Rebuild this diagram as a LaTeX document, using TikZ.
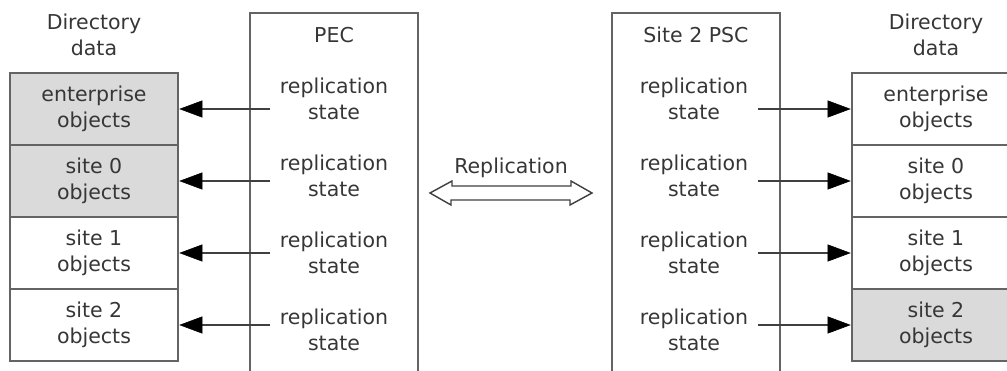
\documentclass[tikz,border=0pt]{standalone}
\usepackage{fontspec}
\setmainfont{DejaVu Sans}
\usetikzlibrary{arrows.meta,calc}
\begin{document}
\begin{tikzpicture}[x=1pt,y=-1pt,
  frame/.style={draw=linegray,line width=2.6pt},
  objbox/.style={frame,minimum width=168pt,minimum height=72pt,inner sep=0pt,
    align=center,text=textgray,font=\fontsize{20.5}{26}\selectfont},
  shaded/.style={fill=boxgray},
  label/.style={align=center,text=textgray,font=\fontsize{20.5}{26}\selectfont,inner sep=10pt},
  arr/.style={draw=arrowgray,line width=2.4pt,
    -{Triangle[length=23pt,width=17pt,color=black,line width=0.5pt]}},
]
\definecolor{linegray}{HTML}{646464}
\definecolor{arrowgray}{HTML}{404040}
\definecolor{textgray}{HTML}{363636}
\definecolor{boxgray}{HTML}{DADADA}
\useasboundingbox (0,0) rectangle (1007,371);
\clip (0,0) rectangle (1007,371);

% left directory data column
\node[label] at (94,35) {Directory\\data};
\node[objbox,shaded] (lent) at (94,109) {enterprise\\objects};
\node[objbox,shaded] (ls0)  at (94,181) {site 0\\objects};
\node[objbox] (ls1) at (94,253) {site 1\\objects};
\node[objbox] (ls2) at (94,325) {site 2\\objects};

% PEC (open at the bottom)
\coordinate (pecBL) at (250,380);
\coordinate (pecBR) at (418,380);
\draw[frame] (pecBL) |- (334,13) -| (pecBR);
\node[label] (pec) at (334,35) {PEC};
\node[label] (pr1) at (334,99)  {replication\\state};
\node[label] (pr2) at (334,176) {replication\\state};
\node[label] (pr3) at (334,253) {replication\\state};
\node[label] (pr4) at (334,330) {replication\\state};

% Site 2 PSC (open at the bottom)
\coordinate (pscBL) at (612,380);
\coordinate (pscBR) at (780,380);
\draw[frame] (pscBL) |- (696,13) -| (pscBR);
\node[label] (psc) at (696,35) {Site 2 PSC};
\node[label] (sr1) at (694,99)  {replication\\state};
\node[label] (sr2) at (694,176) {replication\\state};
\node[label] (sr3) at (694,253) {replication\\state};
\node[label] (sr4) at (694,330) {replication\\state};

% right directory data column
\node[label] at (936,35) {Directory\\data};
\node[objbox] (rent) at (936,109) {enterprise\\objects};
\node[objbox] (rs0)  at (936,181) {site 0\\objects};
\node[objbox] (rs1) at (936,253) {site 1\\objects};
\node[objbox,shaded] (rs2) at (936,325) {site 2\\objects};

% replication-state arrows
\draw[arr] (pr1.west |- lent.east) -- (lent.east);
\draw[arr] (pr2.west |- ls0.east) -- (ls0.east);
\draw[arr] (pr3.west |- ls1.east) -- (ls1.east);
\draw[arr] (pr4.west |- ls2.east) -- (ls2.east);
\draw[arr] (sr1.east |- rent.west) -- (rent.west);
\draw[arr] (sr2.east |- rs0.west) -- (rs0.west);
\draw[arr] (sr3.east |- rs1.west) -- (rs1.west);
\draw[arr] (sr4.east |- rs2.west) -- (rs2.west);

% replication double arrow between the two controllers
\node[label,inner sep=0pt] (repl) at (511,168) {Replication};
\coordinate (da) at (511,193);
\draw[draw=arrowgray,line width=1.4pt,fill=white,line join=miter]
  ($(da)+(-81,0)$) -- ++(22,-12) -- ++(0,5) -- ++(119,0) -- ++(0,-5)
  -- ($(da)+(81,0)$) -- ++(-22,12) -- ++(0,-5) -- ++(-119,0) -- ++(0,5) -- cycle;
\end{tikzpicture}
\end{document}
